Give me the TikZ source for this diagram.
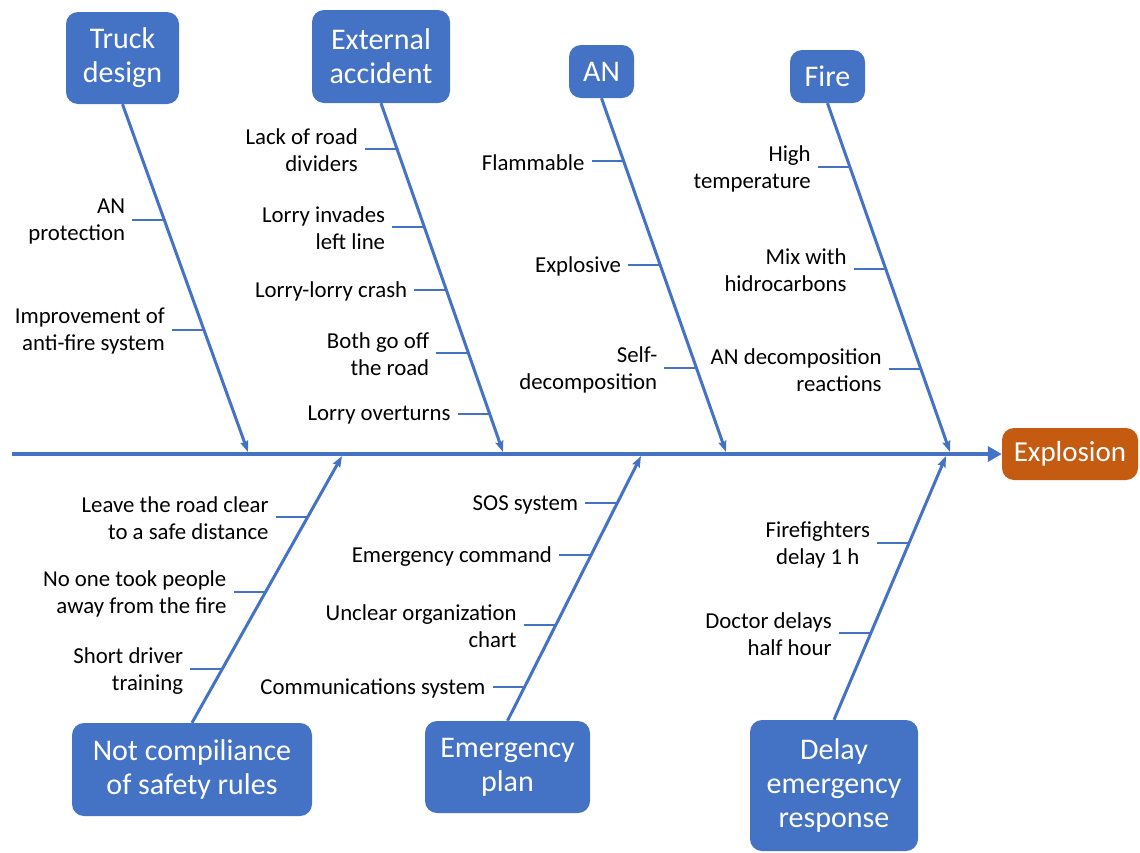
\documentclass[tikz,border=0pt]{standalone}
\usepackage{fontspec}
\setmainfont{Carlito}
\usetikzlibrary{arrows.meta}

\definecolor{fishblue}{HTML}{4472C4}
\definecolor{boomorange}{HTML}{C55A11}

% one rib: [align] {name} {bone start} {bone end} {y} {text}
\newcommand{\rib}[6][]{%
  \coordinate (#2) at (intersection of #3--#4 and 0,#5--1,#5);
  \node[lbl,#1] (#2t) at ([xshift=-32pt]#2) {#6};
  \draw[ribline] (#2t.east |- #2) -- (#2);
}

\begin{document}
\begin{tikzpicture}[x=1pt,y=-1pt,
  cause/.style={fill=fishblue,text=white,rounded corners=12pt,align=center,
    inner sep=0pt,font=\fontsize{30}{34}\selectfont},
  effect/.style={cause,fill=boomorange,font=\fontsize{29}{34}\selectfont},
  lbl/.style={anchor=east,align=right,inner xsep=7pt,inner ysep=0pt,
    font=\fontsize{22.8}{27}\selectfont,yshift=-1.5pt},
  bone/.style={draw=fishblue,line width=3pt,-{Stealth[length=11pt,width=8pt,inset=1.5pt]}},
  spine/.style={draw=fishblue,line width=3.5pt,-{Triangle[length=14pt,width=15pt]}},
  ribline/.style={draw=fishblue,line width=2.2pt}]
  \useasboundingbox (0,0) rectangle (1140,852);

  % head and spine
  \node[effect,minimum width=136pt,minimum height=52pt] (ex) at (1070,454) {Explosion};
  \coordinate (sp) at (12,454);
  \draw[spine] (sp) -- (ex.west);

  % causes above
  \node[cause,minimum width=113pt,minimum height=92pt] (td) at (122.5,58) {Truck\\design};
  \node[cause,minimum width=138pt,minimum height=93pt] (ea) at (381,56.5) {External\\accident};
  \node[cause,minimum width=65pt,minimum height=53pt] (an) at (601.5,71.5) {AN};
  \node[cause,minimum width=75pt,minimum height=53pt] (fi) at (827.5,76.5) {Fire};

  % causes below
  \node[cause,minimum width=240pt,minimum height=93pt] (nc) at (192,769.5) {Not compiliance\\of safety rules};
  \node[cause,minimum width=165pt,minimum height=92pt] (ep) at (507.5,767) {Emergency\\plan};
  \node[cause,minimum width=168pt,minimum height=131pt] (de) at (834,785.5) {Delay\\emergency\\response};

  \coordinate (tdx) at (248,452);
  \coordinate (eax) at (503,452);
  \coordinate (anx) at (726,452);
  \coordinate (fix) at (950,452);
  \coordinate (ncx) at (342,456);
  \coordinate (epx) at (641,456);
  \coordinate (dex) at (946,456);

  \draw[bone] (td.south) -- (tdx);
  \draw[bone] (ea.south) -- (eax);
  \draw[bone] (an.south) -- (anx);
  \draw[bone] (fi.south) -- (fix);
  \draw[bone] (nc.north) -- (ncx);
  \draw[bone] (ep.north) -- (epx);
  \draw[bone] (de.north) -- (dex);

  % ribs
  \rib{td1}{td.south}{tdx}{220}{AN\\protection}
  \rib{td2}{td.south}{tdx}{330}{Improvement of\\anti-fire system}

  \rib{ea1}{ea.south}{eax}{149}{Lack of road\\dividers}
  \rib{ea2}{ea.south}{eax}{227}{Lorry invades\\left line}
  \rib{ea3}{ea.south}{eax}{290}{Lorry-lorry crash}
  \rib{ea4}{ea.south}{eax}{353}{Both go off\\the road}
  \rib{ea5}{ea.south}{eax}{414}{Lorry overturns}

  \rib{an1}{an.south}{anx}{161}{Flammable}
  \rib{an2}{an.south}{anx}{265}{Explosive}
  \rib{an3}{an.south}{anx}{368}{Self-\\decomposition}

  \rib{fi1}{fi.south}{fix}{167}{High\\temperature}
  \rib{fi2}{fi.south}{fix}{269}{Mix with\\hidrocarbons}
  \rib{fi3}{fi.south}{fix}{369}{AN decomposition\\reactions}

  \rib{nc1}{nc.north}{ncx}{517}{Leave the road clear\\to a safe distance}
  \rib{nc2}{nc.north}{ncx}{592}{No one took people\\away from the fire}
  \rib{nc3}{nc.north}{ncx}{669}{Short driver\\training}

  \rib{ep1}{ep.north}{epx}{503}{SOS system}
  \rib{ep2}{ep.north}{epx}{555}{Emergency command}
  \rib{ep3}{ep.north}{epx}{625}{Unclear organization\\chart}
  \rib{ep4}{ep.north}{epx}{687}{Communications system}

  \rib[align=center]{de1}{de.north}{dex}{543}{Firefighters\\delay 1 h}
  \rib{de2}{de.north}{dex}{633}{Doctor delays\\half hour}
\end{tikzpicture}
\end{document}
